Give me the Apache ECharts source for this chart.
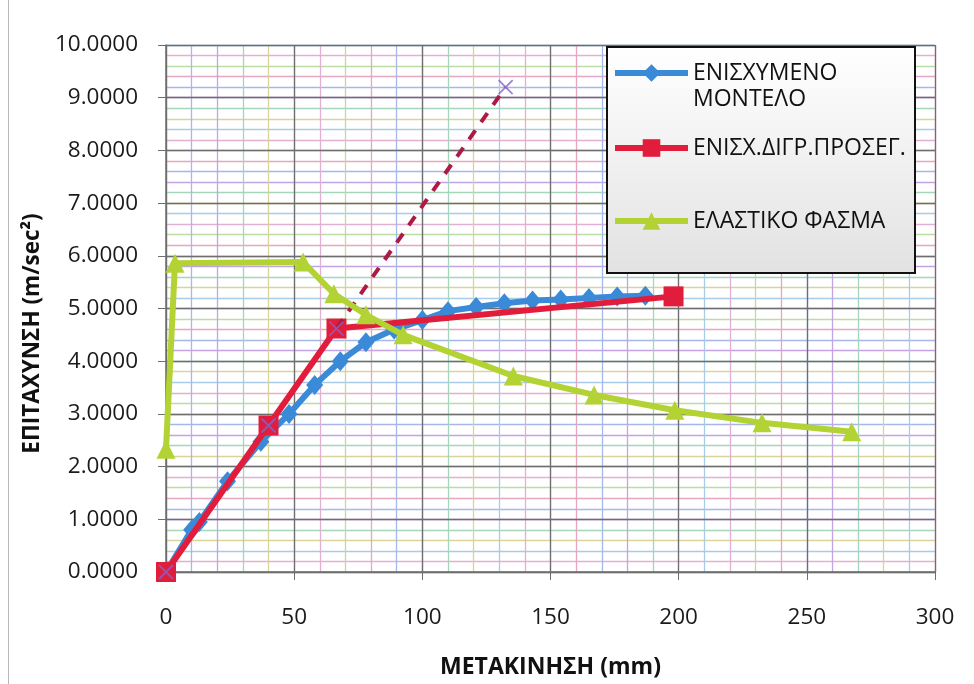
<!DOCTYPE html>
<html>
<head>
<meta charset="utf-8">
<script src="https://cdn.jsdelivr.net/npm/echarts@6/dist/echarts.min.js"></script>
<style>
  html, body { margin: 0; padding: 0; background: #ffffff; }
  #chart { width: 974px; height: 684px; }
</style>
</head>
<body>
<div id="chart"></div>
<script>
// Strengthened model: displacement (mm) vs acceleration (m/sec²)
const modelDisp = [0, 10, 13, 24, 37, 48, 58, 68, 78, 89, 100, 110, 121, 132, 143, 154, 165, 176, 187];
const modelAcc  = [0, 0.80, 0.95, 1.72, 2.47, 3.00, 3.55, 4.00, 4.36, 4.60, 4.78, 4.95, 5.03, 5.10, 5.15, 5.17, 5.20, 5.23, 5.24];

// Bilinear approximation of the strengthened model
const approxDisp = [0, 40, 66.5, 198];
const approxAcc  = [0, 2.78, 4.62, 5.23];

// Elastic response spectrum
const spectrumDisp = [0, 3.5, 53.5, 65.5, 78, 92.5, 135.5, 167, 198.5, 232.5, 267.5];
const spectrumAcc  = [2.33, 5.86, 5.88, 5.28, 4.88, 4.50, 3.72, 3.36, 3.07, 2.83, 2.66];

// Elastic stiffness line (dashed extension)
const elasticDisp = [0, 40, 66.5, 132.5];
const elasticAcc  = [0, 2.78, 4.62, 9.20];

// Axis ranges and steps
const xRange = [0, 300], xMajor = 50, xMinor = 10;
const yRange = [0, 10], yMajor = 1, yMinor = 0.2;

const seriesNames = ['ΕΝΙΣΧΥΜΕΝΟ ΜΟΝΤΕΛΟ', 'ΕΝΙΣΧ.ΔΙΓΡ.ΠΡΟΣΕΓ.', 'ΕΛΑΣΤΙΚΟ ΦΑΣΜΑ'];
const xTitle = 'ΜΕΤΑΚΙΝΗΣΗ (mm)';
const yTitle = 'ΕΠΙΤΑΧΥΝΣΗ (m/sec²)';

const pairs = (xs, ys) => xs.map((x, i) => [x, ys[i]]);

const FONT = '"Open Sans", "DejaVu Sans", sans-serif';
const minorColors = ['#e6a6bf', '#a6b8ea', '#c2a4e4', '#a4d6bc', '#d8d49a', '#a8cce8', '#e2b0d2', '#bcdca4'];

const chart = echarts.init(document.getElementById('chart'), null, { renderer: 'canvas' });

// One legend block per entry so each row sits at its own height
function legendCfg(name, top) {
  return {
    data: [name],
    left: 612,
    top: top,
    padding: 0,
    orient: 'vertical',
    itemWidth: 73,
    itemHeight: 22,
    itemGap: 0,
    z: 20,
    selectedMode: false,
    lineStyle: { width: 6 },
    // first entry wraps onto two lines, with the marker level with the first line
    formatter: n => n === seriesNames[0] ? '\u00a0\nΕΝΙΣΧΥΜΕΝΟ\nΜΟΝΤΕΛΟ' : n,
    textStyle: { fontFamily: FONT, fontSize: 23, color: '#111', lineHeight: 26 }
  };
}

const option = {
  backgroundColor: '#ffffff',
  animation: false,
  grid: { left: 166, top: 45, right: 39, bottom: 112, containLabel: false },
  graphic: [
    { type: 'line', shape: { x1: 8.5, y1: 0, x2: 8.5, y2: 684 }, style: { stroke: '#b8b8b8', lineWidth: 1 }, z: 0 },
    {
      type: 'rect', shape: { x: 607, y: 47, width: 308, height: 226 },
      style: {
        fill: new echarts.graphic.LinearGradient(0, 0, 0, 1, [
          { offset: 0, color: '#ffffff' }, { offset: 1, color: '#e2e2e2' }
        ]),
        stroke: '#111', lineWidth: 2
      },
      z: 10
    }
  ],
  legend: [
    legendCfg(seriesNames[0], 34),
    legendCfg(seriesNames[1], 135),
    legendCfg(seriesNames[2], 208)
  ],
  xAxis: [
    {
      type: 'value', min: xRange[0], max: xRange[1], interval: xMajor, z: 1,
      name: xTitle, nameLocation: 'middle', nameGap: 84,
      nameTextStyle: { fontFamily: FONT, fontSize: 23, fontWeight: 'bold', color: '#111' },
      axisLine: { show: true, onZero: false, lineStyle: { color: '#6e6e6e', width: 1.5 } },
      axisTick: { show: true, length: 8, lineStyle: { color: '#6e6e6e' } },
      axisLabel: { fontFamily: FONT, fontSize: 22.5, color: '#1a1a1a', margin: 34 },
      splitLine: { show: true, lineStyle: { color: '#6e6e6e', width: 1.3 } }
    },
    {
      type: 'value', min: xRange[0], max: xRange[1], interval: xMinor, z: 0,
      axisLine: { show: false }, axisTick: { show: false }, axisLabel: { show: false },
      splitLine: { show: true, lineStyle: { color: minorColors, width: 1.3 } }
    }
  ],
  yAxis: [
    {
      type: 'value', min: yRange[0], max: yRange[1], interval: yMajor, z: 1,
      name: yTitle, nameLocation: 'middle', nameGap: 117, nameRotate: 90,
      // title sits a little below the middle of the axis
      nameTextStyle: { fontFamily: FONT, fontSize: 22.5, fontWeight: 'bold', color: '#111', padding: [0, 50, 0, 0] },
      axisLine: { show: true, onZero: false, lineStyle: { color: '#6e6e6e', width: 1.5 } },
      axisTick: { show: true, length: 8, lineStyle: { color: '#6e6e6e' } },
      axisLabel: { fontFamily: FONT, fontSize: 22.5, color: '#1a1a1a', margin: 28, formatter: v => v.toFixed(4) },
      splitLine: { show: true, lineStyle: { color: '#6e6e6e', width: 1.3 } }
    },
    {
      type: 'value', min: yRange[0], max: yRange[1], interval: yMinor, z: 0,
      axisLine: { show: false }, axisTick: { show: false }, axisLabel: { show: false },
      splitLine: { show: true, lineStyle: { color: minorColors.slice().reverse(), width: 1.3 } }
    }
  ],
  series: [
    {
      name: seriesNames[0], type: 'line', data: pairs(modelDisp, modelAcc), z: 3,
      symbol: 'diamond', symbolSize: [17, 20],
      lineStyle: { color: '#3a8ad8', width: 6 },
      itemStyle: { color: '#3a8ad8' }
    },
    {
      name: seriesNames[1], type: 'line', data: pairs(approxDisp, approxAcc), z: 4,
      symbol: 'rect', symbolSize: 20,
      lineStyle: { color: '#e21d3b', width: 6 },
      itemStyle: { color: '#e21d3b' }
    },
    {
      name: 'elastic', type: 'line', data: pairs(elasticDisp, elasticAcc).slice(2), z: 5,
      symbol: 'none',
      lineStyle: { color: '#ad1a44', width: 4, type: [11, 10] }
    },
    {
      name: 'elastic-points', type: 'scatter', data: pairs(elasticDisp, elasticAcc), z: 7,
      symbol: 'path://M0,0L10,10M10,0L0,10', symbolSize: 14,
      itemStyle: { color: 'rgba(0,0,0,0)', borderColor: '#8563c8', borderWidth: 1.8 }
    },
    {
      name: seriesNames[2], type: 'line', data: pairs(spectrumDisp, spectrumAcc), z: 6,
      symbol: 'triangle', symbolSize: 19,
      lineStyle: { color: '#b3d233', width: 6 },
      itemStyle: { color: '#b3d233' }
    }
  ]
};

chart.setOption(option);
</script>
</body>
</html>
